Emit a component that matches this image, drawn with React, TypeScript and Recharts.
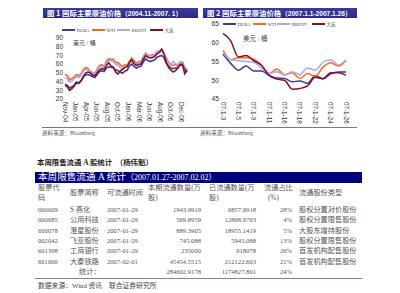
import { Line, LineChart, XAxis, YAxis } from "recharts";

// ---- chart 1: 2004.11 - 2007.1, semi-monthly samples ----
const DATES_1 = [
  "2004-11-01", "2004-11-16", "2004-12-01", "2004-12-16",
  "2005-01-01", "2005-01-16", "2005-02-01", "2005-02-16", "2005-03-01", "2005-03-16",
  "2005-04-01", "2005-04-16", "2005-05-01", "2005-05-16", "2005-06-01", "2005-06-16",
  "2005-07-01", "2005-07-16", "2005-08-01", "2005-08-16", "2005-09-01", "2005-09-16",
  "2005-10-01", "2005-10-16", "2005-11-01", "2005-11-16", "2005-12-01", "2005-12-16",
  "2006-01-01", "2006-01-16", "2006-02-01", "2006-02-16", "2006-03-01", "2006-03-16",
  "2006-04-01", "2006-04-16", "2006-05-01", "2006-05-16", "2006-06-01", "2006-06-16",
  "2006-07-01", "2006-07-16", "2006-08-01", "2006-08-16", "2006-09-01", "2006-09-16",
  "2006-10-01", "2006-10-16", "2006-11-01", "2006-11-16", "2006-12-01", "2006-12-16",
  "2007-01-01", "2007-01-16",
];
const DUBAI_1 = [
  37, 35.5, 32.5, 34, 36, 39.5, 38.5, 41, 45, 48, 48, 47, 45.5, 44.5, 48, 51.5, 52.5, 51.5,
  55.5, 57, 56.5, 56, 53.5, 52.5, 51, 49.5, 52, 53, 58, 60, 57.5, 55.5, 57, 57.5, 62.5, 66,
  64, 63, 64, 65, 68, 69, 70, 67.5, 61, 58, 55.5, 55, 55.5, 55.5, 59, 59, 54, 51,
];
const WTI_1 = [
  48.5, 47, 42, 43.5, 45.5, 48, 46.5, 49, 54, 56, 55, 51.5, 50.5, 49, 54.5, 58.5, 59.5, 57.5,
  63.5, 66, 65.5, 65.5, 62, 61.5, 59.5, 57, 59.5, 58.5, 63.5, 67, 64, 61, 62.5, 63.5, 68.5, 72.5,
  70.5, 70, 71, 70.5, 74.5, 75, 76, 72, 67, 62.5, 59, 58.5, 59.5, 57.5, 62, 62.5, 56, 53,
];
const BRENT_1 = [
  45, 43, 39.5, 40.5, 43.5, 46, 44.5, 47, 52, 54, 53.5, 51, 49.5, 48, 53, 57, 58, 56.5,
  61.5, 64, 64, 63, 59.5, 59, 56, 54, 56.5, 57.5, 61.5, 64.5, 61, 59.5, 61, 63, 67.5, 73,
  70, 69.5, 69.5, 71, 73.5, 75.5, 77, 72.5, 65, 61.5, 59.5, 63, 60.5, 59, 63, 62.5, 56.5, 54,
];
const DAQING_1 = [
  36, 34, 30, 32, 35, 38.5, 38, 41, 46, 50, 51, 50, 47.5, 46.5, 50.5, 53.5, 55, 54,
  58.5, 61.5, 58, 56.5, 51, 48.5, 52, 54, 56, 57.5, 62, 65, 60.5, 58.5, 59.5, 60, 65.5, 70,
  68, 67, 67.5, 69, 72, 73.5, 77, 72, 62, 56, 53.5, 51, 52.5, 55.5, 59.5, 60, 49, 53,
];
const TICKS_1 = [
  "Nov-04", "Jan-05", "Apr-05", "Jun-05", "Aug-05", "Oct-05",
  "Jan-06", "Mar-06", "Jun-06", "Aug-06", "Oct-06", "Dec-06",
];

// ---- chart 2: 2007.1.3 - 2007.1.26, trading days ----
const DATES_2 = [
  "07-1-3", "07-1-4", "07-1-5", "07-1-8", "07-1-9", "07-1-10", "07-1-11", "07-1-12", "07-1-16",
  "07-1-17", "07-1-18", "07-1-19", "07-1-22", "07-1-23", "07-1-24", "07-1-25", "07-1-26",
];
const DUBAI_2 = [57.0, 54.5, 52.7, 53.8, 52.5, 52.5, 51.3, 50.6, 50.5, 49.6, 49.8, 49.2, 51.2, 50.4, 52.0, 52.0, 51.3];
const WTI_2 = [58.0, 55.5, 56.0, 56.0, 55.6, 54.0, 51.8, 53.0, 51.5, 52.0, 50.5, 51.8, 51.0, 53.5, 54.7, 53.8, 55.3];
const BRENT_2 = [57.3, 55.5, 55.2, 55.0, 54.8, 53.2, 51.8, 52.3, 51.4, 52.3, 51.5, 53.3, 52.7, 54.8, 55.5, 54.1, 55.4];
const DAQING_2 = [62.5, 60.5, 56.2, 56.6, 55.2, 54.0, 51.3, 50.3, 50.0, 47.6, 47.8, 48.5, 50.8, 50.4, 51.7, 52.2, 52.2];

// ---- table ----
const CODES = ["000609", "000685", "600078", "002042", "601398", "601006"];
const NAMES = ["S 燕化", "公用科技", "澄星股份", "飞亚股份", "工商银行", "大秦铁路"];
const TIMES = ["2007-01-29", "2007-01-29", "2007-01-29", "2007-01-29", "2007-01-29", "2007-02-01"];
const CUR_QTY = ["1943.9919", "569.8959", "889.3905", "745.088", "235000", "45454.5515"];
const TOTAL_QTY = ["6857.9918", "12868.9763", "18955.1419", "5945.088", "918078", "212122.603"];
const RATIO = ["28%", "4%", "5%", "13%", "26%", "21%"];
const TYPES = ["股权分置对价股份", "股权分置限售股份", "大股东增持股份", "股权分置限售股份", "首发机构配售股份", "首发机构配售股份"];
const SUM_CUR = "284602.9178";
const SUM_TOTAL = "1174827.801";
const SUM_RATIO = "24%";

const COLORS = { dubai: "#3a3aa0", wti: "#ff6a10", brent: "#a8a8f8", daqing: "#8a1020" };
const SERIES = [
  { key: "dubai", name: "DUBA" },
  { key: "wti", name: "WTI" },
  { key: "brent", name: "BRENT" },
  { key: "daqing", name: "大庆" },
] as const;

const SERIF = '"Liberation Serif", "Noto Sans CJK SC", serif';
const SANS = '"Liberation Sans", Arial, sans-serif';
const CJK = '"Noto Sans CJK SC", sans-serif';

function toMonth(d: string): number {
  const [y, m, day] = d.split("-").map(Number);
  return (y - 2004) * 12 + (m - 11) + (day - 1) / 30;
}

const data1 = DATES_1.map((d, i) => ({
  t: toMonth(d),
  dubai: DUBAI_1[i],
  wti: WTI_1[i],
  brent: BRENT_1[i],
  daqing: DAQING_1[i],
}));
const data2 = DATES_2.map((d, i) => ({
  d,
  dubai: DUBAI_2[i],
  wti: WTI_2[i],
  brent: BRENT_2[i],
  daqing: DAQING_2[i],
}));
const tickPos1 = TICKS_1.map((_, i) => i * 2.3);

function DownTick(props: any) {
  const { x, y, payload, labels } = props;
  const text = labels ? labels[payload.index] : payload.value;
  return (
    <text
      x={x}
      y={y}
      transform={`rotate(90 ${x} ${y})`}
      textAnchor="start"
      dominantBaseline="central"
      fontSize={6.3}
      fontFamily={SANS}
      fill="#333"
    >
      {text}
    </text>
  );
}

// legend entries placed where the reference has them
function Legend({ top, xs }: { top: number; xs: number[] }) {
  return (
    <>
      {SERIES.map((s, i) => (
        <div
          key={s.key}
          style={{
            position: "absolute",
            left: xs[i],
            top,
            height: 8,
            display: "flex",
            alignItems: "center",
            fontFamily: SERIF,
            fontSize: 4.6,
            color: "#444",
            whiteSpace: "nowrap",
          }}
        >
          <div style={{ width: 12.5, height: 1.6, background: COLORS[s.key], marginRight: 2 }} />
          <span>{s.name}</span>
        </div>
      ))}
    </>
  );
}

function TitleBar({ left, width, head, tail }: { left: number; width: number; head: string; tail: string }) {
  return (
    <div
      style={{
        position: "absolute",
        left,
        top: 8,
        width,
        height: 10,
        background: "linear-gradient(#3a3a9a, #2a2a88)",
        color: "#fff",
        fontFamily: CJK,
        fontWeight: 700,
        fontSize: 7.4,
        lineHeight: "10px",
        paddingLeft: 4,
        boxSizing: "border-box",
        whiteSpace: "nowrap",
        overflow: "hidden",
      }}
    >
      {head}
      <span style={{ fontSize: 6.5 }}>（</span>
      <span style={{ fontFamily: SANS, fontSize: 6.6 }}>{tail}</span>
      <span style={{ fontSize: 6.5 }}>）</span>
    </div>
  );
}

function T({ x, y, children, right, size = 7.2, color = "#555", bold }: any) {
  const style: any = {
    position: "absolute",
    top: y - 5,
    height: 10,
    lineHeight: "10px",
    fontSize: size,
    fontFamily: SERIF,
    color,
    whiteSpace: "nowrap",
    fontWeight: bold ? 700 : 400,
  };
  if (right) {
    style.right = 400 - x;
  } else {
    style.left = x;
  }
  return <div style={style}>{children}</div>;
}

const ROW_Y = [210, 220.3, 230.6, 240.9, 251.2, 261.5];

export default function App() {
  return (
    <div style={{ position: "absolute", left: 0, top: 0, width: 400, height: 293, background: "#fff", overflow: "hidden" }}>
      <TitleBar left={43} width={155} head="图 1  国际主要原油价格" tail="2004.11-2007. 1" />
      <TitleBar left={203} width={154} head="图 2  国际主要原油价格" tail="2007.1.1-2007.1.26" />

      <Legend top={26} xs={[62, 92, 117, 150]} />
      <Legend top={20} xs={[223, 253, 277, 312]} />

      <div style={{ position: "absolute", left: 73, top: 38, fontSize: 6, fontFamily: SERIF, color: "#444" }}>美元 / 桶</div>
      <div style={{ position: "absolute", left: 243, top: 33, fontSize: 6.5, fontFamily: SERIF, color: "#444" }}>美元 / 桶</div>

      <div style={{ position: "absolute", left: 40, top: 33 }}>
        <LineChart width={150} height={94} data={data1} margin={{ top: 5, right: 3, bottom: 0, left: 0 }}>
          <XAxis
            dataKey="t"
            type="number"
            domain={[0, 26.5]}
            ticks={tickPos1}
            interval={0}
            axisLine={false}
            tickLine={false}
            tickSize={2}
            tickMargin={1}
            height={28}
            tick={<DownTick labels={TICKS_1} />}
          />
          <YAxis
            domain={[20, 90]}
            ticks={[20, 30, 40, 50, 60, 70, 80, 90]}
            interval={0}
            axisLine={false}
            tickLine={false}
            tickSize={2}
            tickMargin={0}
            width={25}
            tick={{ fontSize: 6.5, fill: "#333", fontFamily: SANS }}
          />
          <Line dataKey="wti" stroke={COLORS.wti} strokeWidth={1.6} dot={false} isAnimationActive={false} />
          <Line dataKey="brent" stroke={COLORS.brent} strokeWidth={1.6} dot={false} isAnimationActive={false} />
          <Line dataKey="dubai" stroke={COLORS.dubai} strokeWidth={1.6} dot={false} isAnimationActive={false} />
          <Line dataKey="daqing" stroke={COLORS.daqing} strokeWidth={1.6} dot={false} isAnimationActive={false} />
        </LineChart>
      </div>

      <div style={{ position: "absolute", left: 195, top: 20 }}>
        <LineChart width={155} height={104} data={data2} margin={{ top: 4, right: 4, bottom: 0, left: 0 }}>
          <XAxis
            dataKey="d"
            interval={1}
            axisLine={false}
            tickLine={false}
            tickSize={2}
            tickMargin={1}
            height={25}
            tick={<DownTick />}
          />
          <YAxis
            domain={[45, 65]}
            ticks={[45, 50, 55, 60, 65]}
            interval={0}
            axisLine={false}
            tickLine={false}
            tickSize={2}
            tickMargin={2}
            width={28}
            tick={{ fontSize: 6.8, fill: "#333", fontFamily: SANS }}
          />
          <Line type="monotone" dataKey="dubai" stroke={COLORS.dubai} strokeWidth={1.5} dot={false} isAnimationActive={false} />
          <Line type="monotone" dataKey="wti" stroke={COLORS.wti} strokeWidth={1.5} dot={false} isAnimationActive={false} />
          <Line type="monotone" dataKey="brent" stroke={COLORS.brent} strokeWidth={1.5} dot={false} isAnimationActive={false} />
          <Line type="monotone" dataKey="daqing" stroke={COLORS.daqing} strokeWidth={1.5} dot={false} isAnimationActive={false} />
        </LineChart>
      </div>

      <div style={{ position: "absolute", left: 42, top: 127, width: 315, height: 1, background: "#7070c8" }} />
      <T x={42} y={133} size={5.6} color="#555">资料来源：Bloomberg</T>
      <T x={200} y={133} size={5.6} color="#555">资料来源：Bloomberg</T>

      <T x={37} y={162.5} size={7.4} color="#222" bold>本周限售流通 A 股统计　（杨伟魁）</T>

      <div
        style={{
          position: "absolute",
          left: 35,
          top: 172,
          width: 327,
          height: 10.5,
          background: "#00007e",
          color: "#fff",
          fontFamily: SERIF,
          fontSize: 9.6,
          lineHeight: "10.5px",
          paddingLeft: 3,
          boxSizing: "border-box",
          whiteSpace: "nowrap",
        }}
      >
        本周限售流通 A 统计<span style={{ fontSize: 8 }}>（2007.01.27-2007.02.02）</span>
      </div>

      <T x={38} y={188}>股票代</T>
      <T x={38} y={198}>码</T>
      <T x={70} y={193}>股票简称</T>
      <T x={107} y={193}>可流通时间</T>
      <T x={148} y={188}>本期流通数量(万</T>
      <T x={148} y={198}>股)</T>
      <T x={209} y={188}>已流通数量(万</T>
      <T x={209} y={198}>股)</T>
      <T x={264} y={188}>流通占比</T>
      <T x={268} y={198}>(%)</T>
      <T x={299} y={193}>流通股份类型</T>

      {CODES.map((c, i) => (
        <div key={c}>
          <T x={38} y={ROW_Y[i]} size={6.6}>{c}</T>
          <T x={70} y={ROW_Y[i]}>{NAMES[i]}</T>
          <T x={107} y={ROW_Y[i]} size={6.6}>{TIMES[i]}</T>
          <T x={201} y={ROW_Y[i]} size={6.6} right>{CUR_QTY[i]}</T>
          <T x={256} y={ROW_Y[i]} size={6.6} right>{TOTAL_QTY[i]}</T>
          <T x={292} y={ROW_Y[i]} size={6.6} right>{RATIO[i]}</T>
          <T x={299} y={ROW_Y[i]}>{TYPES[i]}</T>
        </div>
      ))}
      <T x={79} y={271.5}>统计：</T>
      <T x={201} y={271.5} size={6.6} right>{SUM_CUR}</T>
      <T x={256} y={271.5} size={6.6} right>{SUM_TOTAL}</T>
      <T x={292} y={271.5} size={6.6} right>{SUM_RATIO}</T>

      <div style={{ position: "absolute", left: 35, top: 277.5, width: 327, height: 1.5, background: "#7c7cc0" }} />
      <T x={38} y={285.5} size={6.8} color="#444">数据来源：Wind 资讯　联合证券研究所</T>
    </div>
  );
}
